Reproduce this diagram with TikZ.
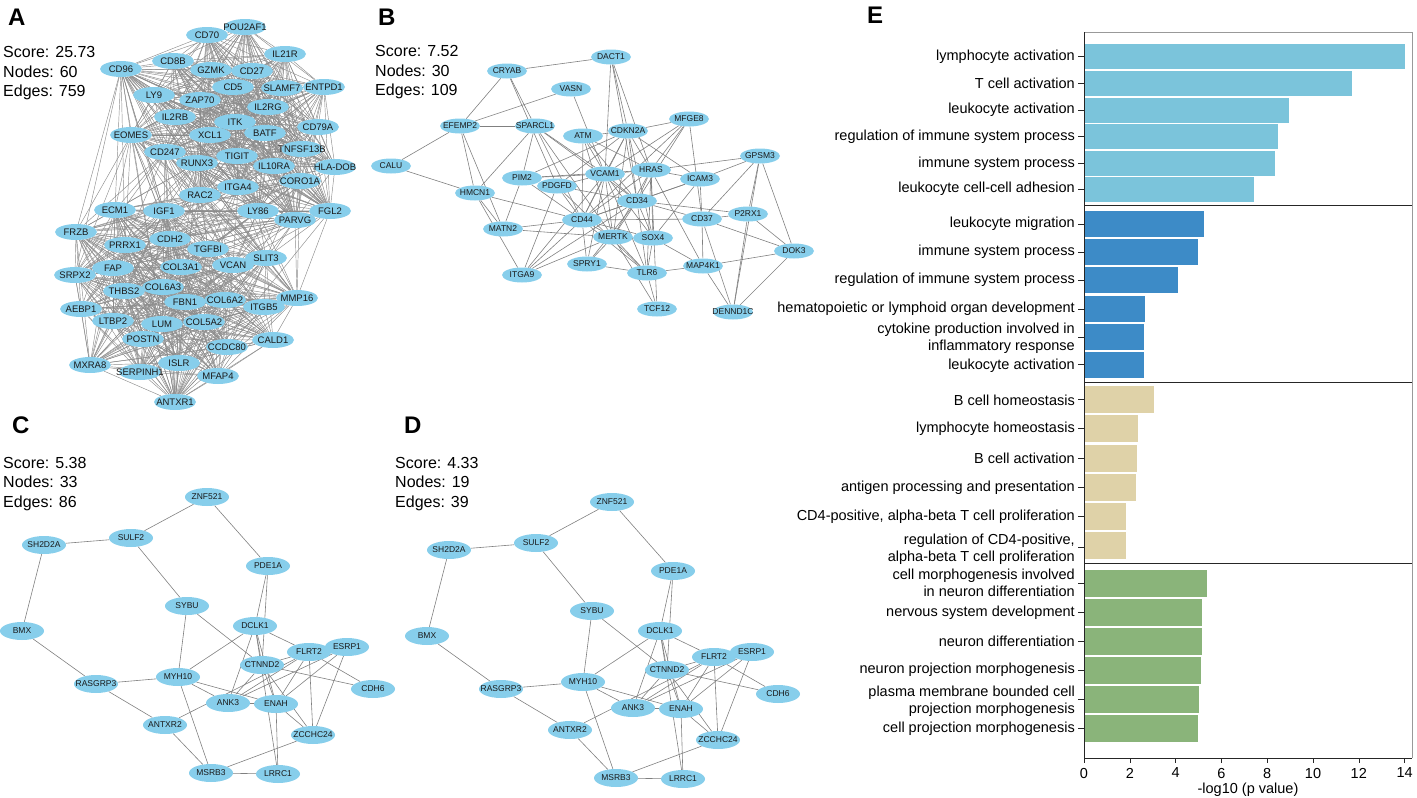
\documentclass[tikz,border=0pt]{standalone}
\usepackage{fontspec}
\setmainfont{Liberation Sans}
\usetikzlibrary{shapes.geometric}

\definecolor{geneblue}{RGB}{135,206,235}
\definecolor{barlight}{RGB}{123,196,219}
\definecolor{bardark}{RGB}{61,139,199}
\definecolor{bartan}{RGB}{223,210,168}
\definecolor{bargreen}{RGB}{138,180,122}

\pgfdeclarelayer{edges}
\pgfsetlayers{edges,main}

\tikzset{
  genetxt/.style={inner sep=0pt, text=black!90, font=\fontsize{8.5}{9}\selectfont},
  geneA/.style={ellipse, fill=geneblue, inner sep=0pt, minimum width=42pt, minimum height=16pt,
    label={[genetxt, font=\fontsize{9.5}{10}\selectfont]center:#1}},
  geneB/.style={ellipse, fill=geneblue, inner sep=0pt, minimum width=40pt, minimum height=15pt,
    label={[genetxt]center:#1}},
  geneC/.style={ellipse, fill=geneblue, inner sep=0pt, minimum width=44pt, minimum height=18pt,
    label={[genetxt]center:#1}},
  edgeA/.style={black!45, line width=0.45pt},
  edge/.style={black!50, line width=0.6pt},
  panel/.style={font=\fontsize{24}{24}\selectfont\bfseries, anchor=base west, inner sep=0pt},
  stats/.style={font=\fontsize{16}{19.5}\selectfont, align=left, anchor=north west, inner sep=0pt},
  golabel/.style={font=\fontsize{14.5}{17}\selectfont, align=right, anchor=east, inner sep=0pt},
  ticklabel/.style={font=\fontsize{14.5}{15}\selectfont, inner sep=0pt},
}

% network of panels C and D (same layout)
\newcommand\netCD[1]{%
  \foreach \n/\lbl/\x/\y in {esrp/ESRP1/347/647, znf/ZNF521/207/497, sulf/SULF2/131/538,
      shd/SH2D2A/44/545, pde/PDE1A/268/566, sybu/SYBU/187/606, bmx/BMX/22/631,
      dclk/DCLK1/255/626, flrt/FLRT2/309/652, ctnnd/CTNND2/262/665, myh/MYH10/178/677,
      ras/RASGRP3/96/684, cdh/CDH6/373/689, ank/ANK3/228/703, enah/ENAH/276/704,
      antx/ANTXR2/165/725, zcc/ZCCHC24/313/735, msrb/MSRB3/211/773, lrrc/LRRC1/278/774}
    \node[geneC=\lbl] (#1-\n) at (\x,\y) {};
  \begin{pgfonlayer}{edges}
  \foreach \p/\q in {znf/sulf, znf/pde, sulf/shd, sulf/sybu, shd/bmx, bmx/ras, ras/myh,
      ras/antx, sybu/myh, sybu/ctnnd, pde/dclk, pde/ctnnd, dclk/myh, dclk/flrt, dclk/ank,
      dclk/ctnnd, dclk/enah, dclk/lrrc, myh/ank, myh/enah, myh/msrb, ctnnd/flrt, ctnnd/cdh,
      ctnnd/ank, ctnnd/enah, ctnnd/zcc, flrt/cdh, flrt/ank, flrt/enah, flrt/zcc, flrt/antx,
      esrp/ank, esrp/enah, esrp/zcc, ank/enah, enah/zcc, enah/lrrc, antx/msrb, msrb/lrrc,
      msrb/zcc}
    \draw[edge] (#1-\p) -- (#1-\q);
  \end{pgfonlayer}
}

\begin{document}
\begin{tikzpicture}[x=1pt, y=-1pt]
  \useasboundingbox (0,0) rectangle (1417,798);

  % ---------- panel A ----------
  \node[panel] (labA) at (8,25) {A};
  \node[stats] (statA) at (3,46.5) {Score: 25.73\\Nodes: 60\\Edges: 759};
  \def\immune{cd70,pou2af1,il21r,cd96,cd8b,gzmk,cd27,cd5,slamf7,entpd1,ly9,zap70,il2rg,
    il2rb,itk,xcl1,batf,cd79a,eomes,cd247,runx3,tnfsf13b,tigit,il10ra,hladob,coro1a,rac2,
    itga4,ly86,fgl2,parvg}
  \def\stroma{ecm1,igf1,frzb,prrx1,cdh2,tgfbi,srpx2,fap,col3a1,vcan,slit3,thbs2,col6a3,
    fbn1,col6a2,itgb5,mmp16,aebp1,ltbp2,lum,col5a2,postn,cald1,ccdc80,mxra8,serpinh1,islr,
    mfap4,antxr1}
  \foreach \n/\lbl/\x/\y in {cd70/CD70/207/35, pou2af1/POU2AF1/245/27, il21r/IL21R/285/54,
      cd96/CD96/121/69, cd8b/CD8B/173/61, gzmk/GZMK/211/70, cd27/CD27/252/71,
      cd5/CD5/233/87, entpd1/ENTPD1/324/87, slamf7/SLAMF7/282/88, ly9/LY9/154/95,
      zap70/ZAP70/200/100, il2rg/IL2RG/268/107, il2rb/IL2RB/175/117, itk/ITK/235/122,
      xcl1/XCL1/210/135, batf/BATF/265/133, cd79a/CD79A/318/127, eomes/EOMES/131/135,
      cd247/CD247/165/152, runx3/RUNX3/197/163, tnfsf13b/TNFSF13B/302/149,
      tigit/TIGIT/237/156, hladob/HLA-DOB/335/167, il10ra/IL10RA/274/166,
      coro1a/CORO1A/300/181, rac2/RAC2/200/195, itga4/ITGA4/238/187, ly86/LY86/258/211,
      fgl2/FGL2/330/211, parvg/PARVG/295/220,
      ecm1/ECM1/115/210, igf1/IGF1/164/211, frzb/FRZB/76/232, prrx1/PRRX1/125/245,
      cdh2/CDH2/170/239, tgfbi/TGFBI/208/249, srpx2/SRPX2/75/275, fap/FAP/113/268,
      col3a1/COL3A1/181/267, vcan/VCAN/233/265, slit3/SLIT3/266/258, thbs2/THBS2/124/291,
      col6a3/COL6A3/163/287, fbn1/FBN1/185/302, col6a2/COL6A2/225/300,
      mmp16/MMP16/297/298, itgb5/ITGB5/264/307, aebp1/AEBP1/81/309, ltbp2/LTBP2/113/321,
      lum/LUM/162/324, col5a2/COL5A2/204/322, postn/POSTN/143/339, cald1/CALD1/273/340,
      ccdc80/CCDC80/227/347, mxra8/MXRA8/90/365, serpinh1/SERPINH1/140/372,
      islr/ISLR/179/363, mfap4/MFAP4/218/376, antxr1/ANTXR1/175/402}
    \node[geneA=\lbl] (\n) at (\x,\y) {};
  \begin{pgfonlayer}{edges}
    \foreach \p [count=\ii] in \immune {
      \foreach \q [count=\jj] in \immune {
        \ifnum\jj>\ii \draw[edgeA] (\p) -- (\q); \fi
      }
    }
    \foreach \p [count=\ii] in \stroma {
      \foreach \q [count=\jj] in \stroma {
        \ifnum\jj>\ii \draw[edgeA] (\p) -- (\q); \fi
      }
    }
    \foreach \p in {eomes,cd96,rac2,itga4,ly86,parvg,fgl2,coro1a,cd247,runx3}
      \foreach \q in {ecm1,igf1,frzb,prrx1,cdh2,tgfbi,vcan,slit3,col3a1,srpx2,mmp16,antxr1}
        \draw[edgeA] (\p) -- (\q);
  \end{pgfonlayer}

  % ---------- panel B ----------
  \node[panel] (labB) at (378,25) {B};
  \node[stats] (statB) at (375,45.5) {Score: 7.52\\Nodes: 30\\Edges: 109};
  \foreach \n/\lbl/\x/\y in {cryab/CRYAB/507/71, vasn/VASN/571/89, efemp2/EFEMP2/460/126,
      sparcl1/SPARCL1/535/126, atm/ATM/583/136, calu/CALU/391/166, pim2/PIM2/522/178,
      pdgfd/PDGFD/557/186, hmcn1/HMCN1/475/193, matn2/MATN2/503/229, itga9/ITGA9/522/275,
      cd44/CD44/582/220, dact1/DACT1/611/57, cdkn2a/CDKN2A/628/131, mfge8/MFGE8/689/119,
      gpsm3/GPSM3/760/156, vcam1/VCAM1/605/174, hras/HRAS/651/170, icam3/ICAM3/700/179,
      cd34/CD34/637/201, cd37/CD37/702/219, p2rx1/P2RX1/748/214, mertk/MERTK/613/237,
      sox4/SOX4/653/238, spry1/SPRY1/587/264, dok3/DOK3/794/251, map4k1/MAP4K1/703/266,
      tlr6/TLR6/647/273, tcf12/TCF12/657/309, dennd1c/DENND1C/733/312}
    \node[geneB=\lbl] (\n) at (\x,\y) {};
  \begin{pgfonlayer}{edges}
    \foreach \p/\q in {cryab/dact1, cryab/efemp2, cryab/sparcl1, cryab/pdgfd, vasn/efemp2,
        vasn/vcam1, efemp2/sparcl1, efemp2/calu, efemp2/hmcn1, efemp2/matn2, calu/hmcn1,
        sparcl1/hmcn1, sparcl1/pim2, sparcl1/cd44, sparcl1/vcam1, sparcl1/mertk,
        sparcl1/cd34, hmcn1/cd44, hmcn1/matn2, hmcn1/itga9, matn2/cd44, matn2/mertk,
        matn2/pim2, itga9/cd44, itga9/vcam1, itga9/cd34, itga9/pdgfd, itga9/mertk,
        dact1/cdkn2a, dact1/hras, dact1/vcam1, dact1/cd34, atm/cdkn2a, atm/vcam1, atm/cd44,
        atm/hras, atm/cd34, atm/mertk, pim2/vcam1, pim2/cdkn2a, pim2/cd44, pim2/hras,
        pdgfd/vcam1, pdgfd/cd44, pdgfd/cdkn2a, pdgfd/cd34, pdgfd/tlr6, cdkn2a/mfge8,
        cdkn2a/vcam1, cdkn2a/hras, cdkn2a/cd34, cdkn2a/cd44, cdkn2a/mertk, cdkn2a/sox4,
        cdkn2a/icam3, mfge8/vcam1, mfge8/hras, mfge8/cd34, mfge8/cd37, mfge8/cd44,
        gpsm3/hras, gpsm3/icam3, gpsm3/cd37, gpsm3/dok3, gpsm3/dennd1c, gpsm3/p2rx1,
        hras/vcam1, hras/icam3, hras/cd34, hras/cd44, hras/sox4, hras/tlr6, hras/mertk,
        hras/map4k1, hras/tcf12, icam3/cd34, icam3/cd37, icam3/sox4, icam3/cd44,
        vcam1/cd34, vcam1/cd44, vcam1/mertk, vcam1/sox4, vcam1/tlr6, vcam1/spry1,
        cd34/cd44, cd34/mertk, cd34/sox4, cd34/tlr6, cd34/cd37, cd34/p2rx1, cd34/spry1,
        cd37/p2rx1, cd37/dok3, cd37/map4k1, cd37/dennd1c, cd37/cd44, p2rx1/dok3,
        p2rx1/dennd1c, dok3/map4k1, dok3/dennd1c, cd44/mertk, cd44/sox4, cd44/tlr6,
        cd44/spry1, mertk/sox4, mertk/tlr6, mertk/spry1, mertk/tcf12, sox4/tlr6,
        sox4/map4k1, spry1/tlr6, tlr6/map4k1, tlr6/tcf12, map4k1/dennd1c}
      \draw[edge] (\p) -- (\q);
  \end{pgfonlayer}

  % ---------- panels C and D ----------
  \node[panel] (labC) at (12,433) {C};
  \node[stats] (statC) at (3,457) {Score: 5.38\\Nodes: 33\\Edges: 86};
  \netCD{c}
  \node[panel] (labD) at (404,433) {D};
  \node[stats] (statD) at (395,457) {Score: 4.33\\Nodes: 19\\Edges: 39};
  \begin{scope}[shift={(405,5)}]
    \netCD{d}
  \end{scope}

  % ---------- panel E ----------
  \node[panel] (labE) at (867,23) {E};
  \foreach \yc/\v in {56.5/14.0, 83.5/11.7, 110/8.95, 136.5/8.47, 163.5/8.35, 189/7.43}
    \fill[barlight] (1085,\yc-12.5) rectangle ({1084+22.9*\v},\yc+12.5);
  \foreach \yc/\v in {224/5.24, 252/4.96, 280/4.1, 309/2.66, 337/2.6, 364.5/2.6}
    \fill[bardark] (1085,\yc-13) rectangle ({1084+22.9*\v},\yc+13);
  \foreach \yc/\v in {399.5/3.06, 428.5/2.36, 458/2.33, 487/2.28, 516.5/1.84, 545.5/1.84}
    \fill[bartan] (1085,\yc-13.5) rectangle ({1084+22.9*\v},\yc+13.5);
  \foreach \yc/\v in {583/5.37, 612/5.17, 641/5.14, 670.5/5.09, 699.5/5.04, 728.5/4.99}
    \fill[bargreen] (1085,\yc-13.5) rectangle ({1084+22.9*\v},\yc+13.5);

  \draw[black!40, line width=1pt] (1084,32) -- (1412,32) -- (1412,758);
  \draw[black!85, line width=1pt] (1084,32) -- (1084,758) -- (1412,758);
  \foreach \s in {205,382,563}
    \draw[black!85, line width=1pt] (1084,\s) -- (1412,\s);

  \foreach \n/\yc/\lbl in {e11/56.5/lymphocyte activation, e12/83.5/T cell activation,
      e13/110/leukocyte activation, e14/136.5/regulation of immune system process,
      e15/163.5/immune system process, e16/189/leukocyte cell-cell adhesion,
      e21/224/leukocyte migration, e22/252/immune system process,
      e23/280/regulation of immune system process,
      e24/309/hematopoietic or lymphoid organ development,
      e25/338/{cytokine production involved in\\inflammatory response},
      e26/366/leukocyte activation, e31/400/B cell homeostasis,
      e32/429/lymphocyte homeostasis, e33/458/B cell activation,
      e34/488/antigen processing and presentation,
      e35/517/{CD4-positive, alpha-beta T cell proliferation},
      e36/549/{regulation of CD4-positive,\\alpha-beta T cell proliferation},
      e41/583/{cell morphogenesis involved\\in neuron differentiation},
      e42/613/nervous system development, e43/641/neuron differentiation,
      e44/670/neuron projection morphogenesis,
      e45/701/{plasma membrane bounded cell\\projection morphogenesis},
      e46/729/cell projection morphogenesis}
    \node[golabel] (\n) at (1075,\yc) {\lbl};
  \foreach \yc in {56.5,83.5,110,136.5,163.5,189,224,252,280,309,337,364.5,
      399.5,428.5,458,487,516.5,547,583,612,641,670.5,699.5,728.5}
    \draw[black!85] (1078,\yc) -- (1084,\yc);

  \foreach \v in {0,2,...,14} {
    \draw[black!85] ({1084+22.9*\v},758) -- ++(0,5);
    \node[ticklabel] (tick\v) at ({1084+22.9*\v},773) {\v};
  }
  \node[ticklabel] (xtitle) at (1248,790) {-log10 (p value)};
\end{tikzpicture}
\end{document}
